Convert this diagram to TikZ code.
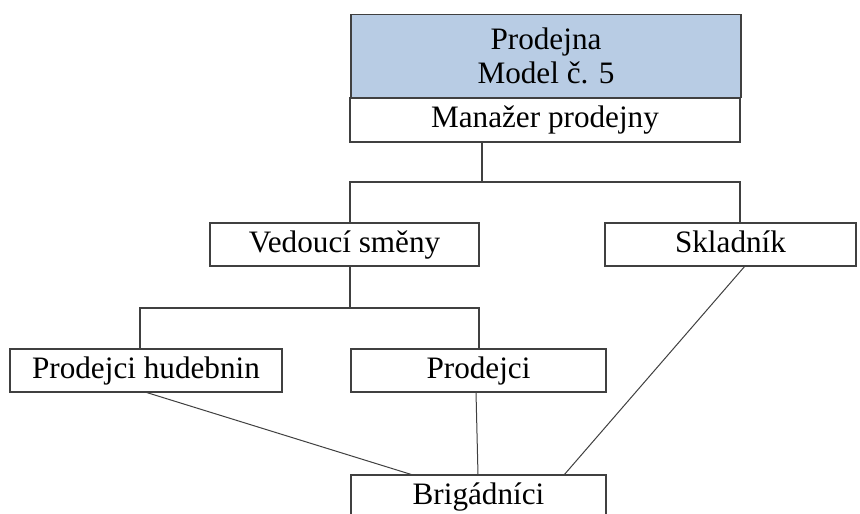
\documentclass[tikz,border=0pt]{standalone}
\usepackage{fontspec}
\setmainfont{Liberation Serif}
\definecolor{headblue}{RGB}{184,204,228}
\definecolor{edge}{RGB}{64,64,64}
\begin{document}
\begin{tikzpicture}[x=1pt,y=-1pt,
  unit/.style={draw=edge, line width=1.3pt, rectangle, inner sep=0pt, outer sep=0pt,
    font=\fontsize{31.2}{34}\selectfont, text height=20pt, text depth=5pt},
  link/.style={draw=edge, line width=1.3pt},
  slant/.style={draw=edge, line width=1pt}]
\useasboundingbox (0,0) rectangle (860,514);
\clip (0,0) rectangle (860,514);
\fill[white] (0,0) rectangle (860,514);

% store header and manager
\node[unit, fill=headblue, minimum width=390pt, minimum height=83pt,
      align=center, text height=, text depth=] (head) at (546,56) {Prodejna\\Model č. 5};
\node[unit, minimum width=390pt, minimum height=44pt] (mgr) at (545,120) {Manažer prodejny};

% second level
\node[unit, minimum width=269pt, minimum height=43pt] (ved) at (344.5,244.5) {Vedoucí směny};
\node[unit, minimum width=251pt, minimum height=43pt] (skl) at (730.5,244.5) {Skladník};

% third level
\node[unit, minimum width=272pt, minimum height=43pt] (ph) at (146,370.5) {Prodejci hudebnin};
\node[unit, minimum width=255pt, minimum height=43pt] (pr) at (478.5,370.5) {Prodejci};

% temporary staff
\node[unit, minimum width=255pt, minimum height=44pt] (brg) at (478.5,497) {Brigádníci};

% branching from the manager
\coordinate (j0) at (482,182);
\coordinate (b1) at (350,182);
\coordinate (b2) at (740,182);
\draw[link] (mgr.south -| j0) -- (j0);
\draw[link] (ved.north -| b1) -- (b1) -- (b2) -- (skl.north -| b2);

% branching from the shift leader
\coordinate (c0) at (350,308);
\coordinate (c1) at (140,308);
\coordinate (c2) at (479,308);
\draw[link] (ved.south -| c0) -- (c0);
\draw[link] (ph.north -| c1) -- (c1) -- (c2) -- (pr.north -| c2);

% links to temporary staff
\coordinate (s1) at (145,0);
\coordinate (t1) at (413,0);
\coordinate (s2) at (476,0);
\coordinate (t2) at (478,0);
\coordinate (s3) at (745,0);
\coordinate (t3) at (564,0);
\draw[slant] (ph.south -| s1) -- (brg.north -| t1);
\draw[slant] (pr.south -| s2) -- (brg.north -| t2);
\draw[slant] (skl.south -| s3) -- (brg.north -| t3);
\end{tikzpicture}
\end{document}
